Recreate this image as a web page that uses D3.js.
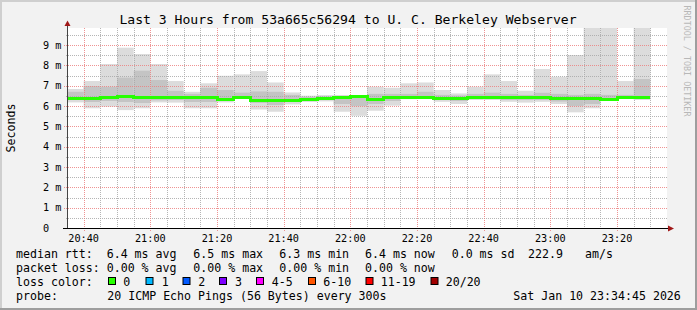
<!DOCTYPE html>
<html>
<head>
<meta charset="utf-8">
<script src="https://cdn.jsdelivr.net/npm/d3@7"></script>
<style>
  body { margin: 0; background: #fff; }
  text { font-family: "DejaVu Sans Mono", monospace; }
</style>
</head>
<body>
<div id="chart"></div>
<script>
// one value per 5 minute step, 20:35 .. 23:30 (ms)
var rttMax = [6.84, 7.23, 8.07, 8.87, 8.56, 8.07, 7.23, 6.70, 7.12, 7.49, 7.56, 7.72, 7.16, 6.67, 6.51, 6.54, 6.54, 6.54,
              6.95, 6.90, 7.12, 7.16, 6.79, 6.62, 6.95, 7.56, 7.23, 6.75, 7.82, 7.44, 8.51, 10.5, 10.5, 7.23, 10.5];
var rttHi  = [6.70, 6.98, 6.95, 7.40, 7.74, 7.28, 6.75, 6.60, 6.90, 6.79, 6.66, 6.72, 6.70, 6.55, 6.45, 6.48, 6.50, 6.50,
              6.60, 6.60, 6.60, 6.70, 6.55, 6.52, 6.60, 6.66, 6.60, 6.55, 6.65, 6.60, 6.55, 6.60, 6.55, 6.55, 7.33];
var rttMed = [6.40, 6.38, 6.43, 6.48, 6.44, 6.43, 6.43, 6.43, 6.43, 6.36, 6.43, 6.31, 6.30, 6.31, 6.35, 6.41, 6.44, 6.47,
              6.36, 6.43, 6.46, 6.45, 6.42, 6.41, 6.43, 6.43, 6.43, 6.46, 6.43, 6.41, 6.41, 6.41, 6.35, 6.43, 6.43];
var rttLo  = [6.30, 6.20, 6.25, 6.20, 6.15, 6.28, 6.30, 6.20, 6.20, 6.25, 6.38, 6.15, 6.05, 6.20, 6.28, 6.32, 6.10, 6.00,
              6.10, 6.25, 6.40, 6.40, 6.30, 6.25, 6.35, 6.35, 6.30, 6.30, 6.30, 6.22, 6.00, 6.10, 6.32, 6.38, 6.35];
var rttMin = [6.18, 5.89, 5.97, 5.80, 5.89, 6.18, 6.17, 5.89, 5.89, 6.18, 6.36, 5.83, 5.72, 6.08, 6.20, 6.23, 5.72, 5.52,
              5.77, 6.02, 6.34, 6.35, 6.21, 6.10, 6.30, 6.30, 6.21, 6.17, 6.21, 6.10, 5.69, 5.89, 6.30, 6.36, 6.30];

var yTickLabels = ["0", "1 m", "2 m", "3 m", "4 m", "5 m", "6 m", "7 m", "8 m", "9 m"];
var xTickLabels = ["20:40", "21:00", "21:20", "21:40", "22:00", "22:20", "22:40", "23:00", "23:20"];

var lossNames = ["0", "1", "2", "3", "4-5", "6-10", "11-19", "20/20"];
var lossColours = ["#26ff00", "#00b8ff", "#0059ff", "#7e00ff", "#ff00ff", "#ff5500", "#ff0000", "#a10000"];

var W = 697, H = 310;
var plot = {left: 67, right: 667, top: 28, bottom: 228};

var t0 = new Date(2026, 0, 10, 20, 35);
var t1 = new Date(2026, 0, 10, 23, 35);
var x = d3.scaleTime().domain([t0, t1]).range([plot.left, plot.right]);
var y = d3.scaleLinear().domain([0, 9.84]).range([plot.bottom, plot.top]);

var svg = d3.select("#chart").append("svg")
  .attr("width", W).attr("height", H);

// dotted grid patterns (1 px on, 1 px off)
var defs = svg.append("defs");
function dotPattern(id, w, h, colour) {
  var p = defs.append("pattern").attr("id", id)
    .attr("patternUnits", "userSpaceOnUse")
    .attr("width", w).attr("height", h);
  p.append("rect").attr("width", 1).attr("height", 1).attr("fill", colour);
}
dotPattern("hMinor", 2, 1, "#a8a8a8");
dotPattern("vMinor", 1, 2, "#a8a8a8");
dotPattern("hMajor", 2, 1, "#ec8080");
dotPattern("vMajor", 1, 2, "#ec8080");

// background + 3d frame
svg.append("rect").attr("width", W).attr("height", H).attr("fill", "#f2f2f2");
svg.append("rect").attr("x", 0).attr("y", 0).attr("width", W).attr("height", 2).attr("fill", "#cfcfcf");
svg.append("rect").attr("x", 0).attr("y", 0).attr("width", 2).attr("height", H).attr("fill", "#cfcfcf");
svg.append("rect").attr("x", 0).attr("y", H - 2).attr("width", W).attr("height", 2).attr("fill", "#9e9e9e");
svg.append("rect").attr("x", W - 2).attr("y", 0).attr("width", 2).attr("height", H).attr("fill", "#9e9e9e");

svg.append("rect")
  .attr("x", plot.left).attr("y", plot.top)
  .attr("width", plot.right - plot.left).attr("height", plot.bottom - plot.top)
  .attr("fill", "#ffffff");

svg.append("clipPath").attr("id", "clip")
  .append("rect")
  .attr("x", plot.left).attr("y", plot.top)
  .attr("width", plot.right - plot.left).attr("height", plot.bottom - plot.top);

// smoke
var bins = rttMed.map(function(d, i) { return d3.timeMinute.offset(t0, i * 5); });
var step = x(d3.timeMinute.offset(t0, 5)) - x(t0);
var smoke = svg.append("g").attr("clip-path", "url(#clip)");

function band(top, bot, colour) {
  smoke.selectAll(null).data(bins).enter()
    .append("rect")
      .attr("x", function(d) { return x(d); })
      .attr("width", step)
      .attr("y", function(d, i) { return y(top[i]); })
      .attr("height", function(d, i) { return y(bot[i]) - y(top[i]); })
      .attr("fill", colour);
}
band(rttMax, rttMin, "#dcdcdc");
band(rttHi, rttLo, "#c4c4c4");

// grid on top of smoke
var grid = svg.append("g").attr("shape-rendering", "crispEdges");
var minorY = d3.range(0.5, 9.84, 1);
var majorY = d3.range(1, 10, 1);
var minorX = d3.timeMinute.every(5).range(d3.timeMinute.offset(t0, 5), t1)
  .filter(function(d) { return d.getMinutes() % 20 != 0; });
var majorX = d3.timeMinute.every(20).range(t0, t1);

function hLines(vals, pat, x0) {
  grid.selectAll(null).data(vals).enter().append("rect")
    .attr("x", x0)
    .attr("y", function(d) { return Math.round(y(d)); })
    .attr("width", plot.right - x0)
    .attr("height", 1)
    .attr("fill", "url(#" + pat + ")")
    .attr("fill-opacity", 0.85);
}
function vLines(vals, pat, ext) {
  grid.selectAll(null).data(vals).enter().append("rect")
    .attr("x", function(d) { return Math.round(x(d)); })
    .attr("y", plot.top)
    .attr("width", 1)
    .attr("height", plot.bottom - plot.top + ext)
    .attr("fill", "url(#" + pat + ")")
    .attr("fill-opacity", 0.85);
}
hLines(minorY, "hMinor", plot.left - 2);
vLines(minorX, "vMinor", 2);
hLines(majorY, "hMajor", plot.left - 4);
vLines(majorX, "vMajor", 4);

// median line, coloured by loss (all 0 here)
var medLine = d3.line()
  .x(function(d) { return x(d.t); })
  .y(function(d) { return Math.round(y(d.v)) + 0.5; })
  .curve(d3.curveStepAfter);
var medPts = bins.map(function(d, i) { return {t: d, v: rttMed[i]}; });
medPts.push({t: d3.timeMinute.offset(bins[bins.length - 1], 5), v: rttMed[rttMed.length - 1]});
svg.append("path")
  .datum(medPts)
  .attr("d", medLine)
  .attr("fill", "none")
  .attr("stroke", lossColours[0])
  .attr("stroke-width", 3)
  .attr("shape-rendering", "crispEdges");

// axes
svg.append("line").attr("x1", plot.left + 0.5).attr("x2", plot.left + 0.5)
  .attr("y1", plot.bottom).attr("y2", 23).attr("stroke", "#444").attr("stroke-width", 1);
svg.append("line").attr("x1", plot.left).attr("x2", 670)
  .attr("y1", plot.bottom + 0.5).attr("y2", plot.bottom + 0.5).attr("stroke", "#000").attr("stroke-width", 1);
svg.append("path").attr("d", "M64.5,26L67.5,20.5L70.5,26Z").attr("fill", "#a01818");
svg.append("path").attr("d", "M668,225.5L674,228.5L668,231.5Z").attr("fill", "#a01818");
svg.append("line").attr("x1", plot.left - 4).attr("x2", plot.left)
  .attr("y1", plot.bottom + 0.5).attr("y2", plot.bottom + 0.5).attr("stroke", "#000");

// tick labels
svg.append("g").selectAll("text").data(yTickLabels).enter()
  .append("text")
    .attr("x", 43)
    .attr("y", function(d, i) { return y(i) + 3.5; })
    .attr("font-size", "10.2px")
    .attr("fill", "#000")
    .text(function(d) { return d; });

svg.append("g").selectAll("text").data(xTickLabels).enter()
  .append("text")
    .attr("x", function(d, i) { return x(majorX[i]); })
    .attr("y", 241.5)
    .attr("text-anchor", "middle")
    .attr("font-size", "10.2px")
    .attr("fill", "#000")
    .text(function(d) { return d; });

// titles
svg.append("text")
  .attr("x", 348).attr("y", 23.5)
  .attr("text-anchor", "middle")
  .attr("font-size", "13.1px")
  .text("Last 3 Hours from 53a665c56294 to U. C. Berkeley Webserver");

svg.append("text")
  .attr("transform", "translate(15,128) rotate(-90)")
  .attr("text-anchor", "middle")
  .attr("font-size", "11.6px")
  .text("Seconds");

svg.append("text")
  .attr("transform", "translate(684,61) rotate(90)")
  .attr("text-anchor", "middle")
  .attr("font-size", "8.4px")
  .attr("fill", "#b8b8b8")
  .text("RRDTOOL / TOBI OETIKER");

// legend
var legend = svg.append("g").attr("font-size", "11.6px").attr("fill", "#000");
function put(tx, ty, s) {
  legend.append("text").attr("x", tx).attr("y", ty).attr("xml:space", "preserve").text(s);
}
var l1 = 258, l2 = 272, l3 = 286, l4 = 300;
put(16, l1, "median rtt:");
put(106.7, l1, "6.4 ms avg");
put(193.3, l1, "6.5 ms max");
put(279.3, l1, "6.3 ms min");
put(365, l1, "6.4 ms now");
put(451.7, l1, "0.0 ms sd");
put(528, l1, "222.9");
put(585, l1, "am/s");

put(16, l2, "packet loss:");
put(106.7, l2, "0.00 % avg");
put(193.3, l2, "0.00 % max");
put(279.3, l2, "0.00 % min");
put(365, l2, "0.00 % now");

put(16, l3, "loss color:");
var boxX = [108.5, 146, 183, 219.5, 256.5, 308.5, 366, 431];
var labX = [123.3, 161.7, 198.3, 235, 271.7, 323.3, 380.7, 445.7];
lossNames.forEach(function(n, i) {
  legend.append("rect")
    .attr("x", boxX[i]).attr("y", 277.5)
    .attr("width", 7).attr("height", 7)
    .attr("fill", lossColours[i])
    .attr("stroke", "#000").attr("stroke-width", 1);
  put(labX[i], l3, n);
});

put(16, l4, "probe:");
put(107.3, l4, "20 ICMP Echo Pings (56 Bytes) every 300s");
put(513.3, l4, "Sat Jan 10 23:34:45 2026");
</script>
</body>
</html>
